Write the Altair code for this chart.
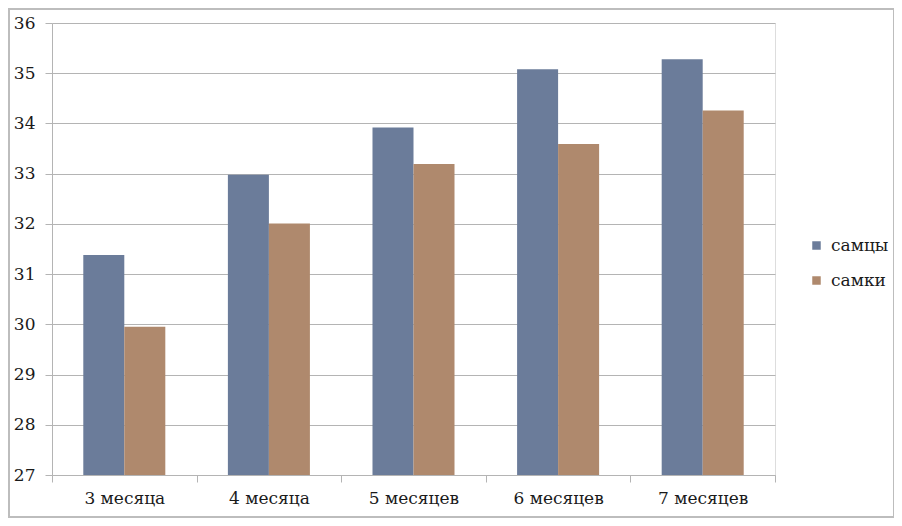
import altair as alt
import pandas as pd

months = ["3 месяца", "4 месяца", "5 месяцев", "6 месяцев", "7 месяцев"]
series = ["самцы", "самки"]
males = [31.38, 32.98, 33.92, 35.08, 35.28]
females = [29.95, 32.01, 33.19, 33.59, 34.26]
colors = ["#6B7C9A", "#AF896D"]
y_ticks = [27, 28, 29, 30, 31, 32, 33, 34, 35, 36]

rows = []
for m, a, b in zip(months, males, females):
    rows.append({"month": m, "series": series[0], "value": a})
    rows.append({"month": m, "series": series[1], "value": b})
df = pd.DataFrame(rows)

FONT = "DejaVu Serif"
GRID = "#B4B4B4"
TXT = "#1a1a1a"

bars = alt.Chart(df).mark_bar(clip=True).encode(
    x=alt.X(
        "month:N",
        sort=months,
        scale=alt.Scale(paddingInner=0, paddingOuter=0),
        axis=alt.Axis(
            title=None, labelAngle=0, tickBand="extent", ticks=True, tickSize=7,
            tickColor=GRID, domainColor=GRID, labelFont=FONT, labelFontSize=17,
            labelColor=TXT, labelPadding=8, grid=False,
        ),
    ),
    xOffset=alt.XOffset("series:N", sort=series,
                        scale=alt.Scale(paddingInner=0, paddingOuter=0.763)),
    y=alt.Y(
        "value:Q",
        scale=alt.Scale(domain=[27, 36], zero=False, nice=False),
        axis=alt.Axis(
            title=None, values=y_ticks, format="d", tickSize=7, tickColor=GRID,
            domainColor=GRID, gridColor=GRID, grid=True, labelFont=FONT,
            labelFontSize=17, labelColor=TXT, labelPadding=10,
        ),
    ),
    y2=alt.datum(27),
    color=alt.Color(
        "series:N",
        sort=series,
        scale=alt.Scale(domain=series, range=colors),
        legend=alt.Legend(
            title=None, orient="none", legendX=756, legendY=214,
            symbolType="square", symbolSize=72, symbolStrokeWidth=0,
            labelFont=FONT, labelFontSize=17, labelColor=TXT,
            rowPadding=17, labelOffset=6,
        ),
    ),
)

frame = alt.Chart(pd.DataFrame({"k": [0]})).mark_rect(
    fill=None, stroke="#BDBDBD", strokeWidth=2, clip=False
).encode(
    x=alt.value(-43), x2=alt.value(842), y=alt.value(-14), y2=alt.value(494)
)

chart = alt.layer(bars, frame).properties(
    width=723,
    height=452,
    autosize=alt.AutoSizeParams(type="none"),
    padding={"left": 44, "top": 15, "right": 119, "bottom": 43},
).configure_view(stroke=None).configure(background="white")

chart.save("out.html", embed_options={"renderer": "svg", "actions": False})
